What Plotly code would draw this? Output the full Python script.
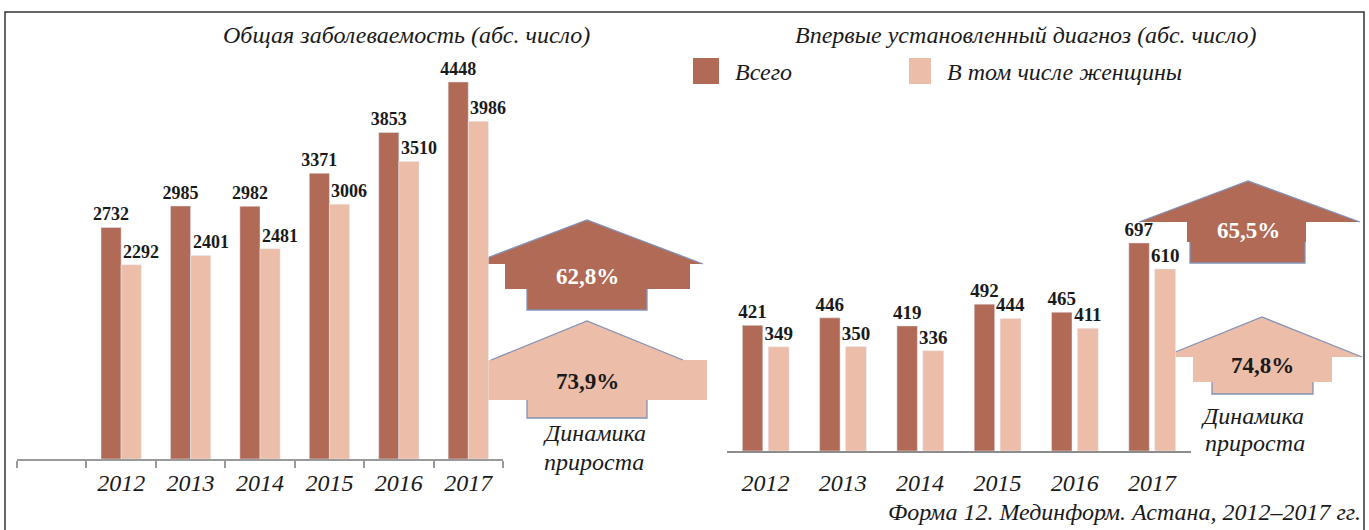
import plotly.graph_objects as go

W, H = 1369, 530

years = ["2012", "2013", "2014", "2015", "2016", "2017"]
total_all = [2732, 2985, 2982, 3371, 3853, 4448]
women_all = [2292, 2401, 2481, 3006, 3510, 3986]
total_new = [421, 446, 419, 492, 465, 697]
women_new = [349, 350, 336, 444, 411, 610]
growth_all = ["62,8%", "73,9%"]
growth_new = ["65,5%", "74,8%"]

title_all = "Общая заболеваемость (абс. число)"
title_new = "Впервые установленный диагноз (абс. число)"
legend_names = ["Всего", "В том числе женщины"]
dyn_text = ["Динамика", "прироста"]
footer = "Форма 12. Мединформ. Астана, 2012–2017 гг."

DARK = "#B06A56"
LIGHT = "#ECBDA8"
SERIF = "Liberation Serif"
TXT = "#1a1a1a"

def px(x):
    return x / W

def py(y):
    return 1 - y / H

def path(points, close=True):
    s = "M " + " L ".join(f"{px(x):.5f},{py(y):.5f}" for x, y in points)
    return s + (" Z" if close else "")

xs = list(range(len(years)))

fig = go.Figure()

# Left chart
fig.add_trace(go.Bar(x=xs, y=total_all, name=legend_names[0], marker_color=DARK,
                     offset=-0.29, width=0.29, text=[str(v) for v in total_all],
                     textposition="outside", constraintext="none", cliponaxis=False,
                     textfont=dict(family=SERIF, size=18, weight="bold", color=TXT),
                     xaxis="x", yaxis="y", showlegend=False))
fig.add_trace(go.Bar(x=xs, y=women_all, name=legend_names[1], marker_color=LIGHT,
                     offset=0.0, width=0.29, cliponaxis=False,
                     xaxis="x", yaxis="y", showlegend=False))
# Right chart
fig.add_trace(go.Bar(x=xs, y=total_new, name=legend_names[0], marker_color=DARK,
                     offset=-0.30, width=0.265, text=[str(v) for v in total_new],
                     textposition="outside", constraintext="none", cliponaxis=False,
                     textfont=dict(family=SERIF, size=19, weight="bold", color=TXT),
                     xaxis="x2", yaxis="y2", showlegend=False))
fig.add_trace(go.Bar(x=xs, y=women_new, name=legend_names[1], marker_color=LIGHT,
                     offset=0.035, width=0.27, text=[str(v) for v in women_new],
                     textposition="outside", constraintext="none", cliponaxis=False,
                     textfont=dict(family=SERIF, size=19, weight="bold", color=TXT),
                     xaxis="x2", yaxis="y2", showlegend=False))

annotations = []
for i, v in enumerate(women_all):
    annotations.append(dict(x=i, y=v, xref="x", yref="y", text=str(v), showarrow=False,
                            xanchor="left", yanchor="bottom", xshift=0, yshift=1,
                            font=dict(family=SERIF, size=18, weight="bold", color=TXT)))

def ann(x, y, text, size=24, italic=True, bold=False, color=TXT, xanchor="center"):
    f = dict(family=SERIF, size=size, color=color)
    if italic:
        f["style"] = "italic"
    if bold:
        f["weight"] = "bold"
    annotations.append(dict(x=px(x), y=py(y), xref="paper", yref="paper", text=text,
                            showarrow=False, xanchor=xanchor, yanchor="middle", font=f))

ann(406, 35, title_all)
ann(1025, 35, title_new)
ann(733, 72, legend_names[0], xanchor="left")
ann(945, 72, legend_names[1], xanchor="left")
ann(594, 433, dyn_text[0])
ann(594, 462, dyn_text[1])
ann(1252, 416, dyn_text[0])
ann(1255, 443, dyn_text[1])
ann(1363, 512, footer, xanchor="right")
ann(587, 276, growth_all[0], size=23, italic=False, bold=True, color="white")
ann(587, 381, growth_all[1], size=23, italic=False, bold=True, color=TXT)
ann(1248, 230, growth_new[0], size=23, italic=False, bold=True, color="white")
ann(1262, 365, growth_new[1], size=23, italic=False, bold=True, color=TXT)

shapes = []
OUT = "#8393b8"

def arrow(apex, tl, tr, base_y, body, stem, color):
    bx0, bx1, by = body
    sx0, sx1, sy = stem
    pts = [apex, (tr, base_y), (bx1, base_y), (bx1, by), (sx1, by), (sx1, sy),
           (sx0, sy), (sx0, by), (bx0, by), (bx0, base_y), (tl, base_y)]
    shapes.append(dict(type="path", path=path(pts), xref="paper", yref="paper",
                       fillcolor=color, line=dict(width=0), layer="below"))
    shapes.append(dict(type="path", path=path([(tl, base_y), apex, (tr, base_y)], close=False),
                       xref="paper", yref="paper", line=dict(color=OUT, width=1.3), layer="below"))
    shapes.append(dict(type="path", path=path([(sx0, by), (sx0, sy), (sx1, sy), (sx1, by)], close=False),
                       xref="paper", yref="paper", line=dict(color=OUT, width=1.3), layer="below"))

arrow((587, 220), 471, 703, 264, (505, 690, 289), (527, 647, 310), DARK)
arrow((587, 321), 491, 683, 360, (470, 707, 400), (527, 647, 418), LIGHT)
arrow((1248, 181), 1139, 1360, 222, (1187, 1306, 242), (1190, 1305, 263), DARK)
arrow((1262, 317), 1163, 1362, 357, (1193, 1332, 382), (1212, 1313, 394), LIGHT)

# legend squares
shapes.append(dict(type="rect", xref="paper", yref="paper", x0=px(693), x1=px(719),
                   y0=py(84), y1=py(58), fillcolor=DARK, line=dict(width=0)))
shapes.append(dict(type="rect", xref="paper", yref="paper", x0=px(909), x1=px(931),
                   y0=py(84), y1=py(58), fillcolor=LIGHT, line=dict(width=0)))
# outer frame
shapes.append(dict(type="rect", xref="paper", yref="paper", x0=px(5), x1=px(1364),
                   y0=py(540), y1=py(12), line=dict(color="#333333", width=1.5)))

tickfont = dict(family=SERIF, size=24, style="italic", color=TXT)
y0L, y0R, yTop = 459, 451, 50

fig.update_layout(
    width=W, height=H, margin=dict(l=0, r=0, t=0, b=0),
    paper_bgcolor="white", plot_bgcolor="rgba(0,0,0,0)",
    barmode="overlay",
    xaxis=dict(domain=[px(17), px(503)], range=[-1.5, 5.5], anchor="y",
               tickvals=xs, ticktext=years, ticks="", tickfont=tickfont,
               ticklabelstandoff=1,
               showline=True, linecolor="#9a9a9a", linewidth=2, showgrid=False, zeroline=False,
               minor=dict(ticks="outside", tick0=0.5, dtick=1, ticklen=7,
                          tickcolor="#9a9a9a", tickwidth=1.5, showgrid=False)),
    yaxis=dict(domain=[py(y0L), py(yTop)], range=[0, (y0L - yTop) / 0.08476],
               visible=False, anchor="x"),
    xaxis2=dict(domain=[px(726.85), px(1190.65)], range=[-0.5, 5.5], anchor="y2",
                tickvals=xs, ticktext=years, ticks="", tickfont=tickfont,
                ticklabelstandoff=9,
                showline=True, linecolor="#8c8c8c", linewidth=2, showgrid=False, zeroline=False),
    yaxis2=dict(domain=[py(y0R), py(yTop)], range=[0, (y0R - yTop) / 0.2985],
                visible=False, anchor="x2"),
    annotations=annotations,
    shapes=shapes,
)

fig.write_html("out.html", config={"displayModeBar": False},
               post_script="document.body.style.margin='0';")
